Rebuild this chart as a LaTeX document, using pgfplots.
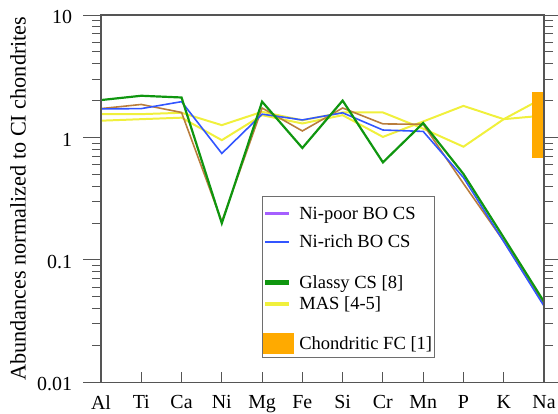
\documentclass[border=0pt]{standalone}
\usepackage{pgfplots}
\pgfplotsset{compat=1.18}
\usepackage{fontspec}
\setmainfont{Liberation Serif}
\definecolor{cGreen}{RGB}{15,150,15}
\definecolor{cBrown}{RGB}{185,125,60}
\definecolor{cBlue}{RGB}{50,85,255}
\definecolor{cYellow}{RGB}{240,240,60}
\definecolor{cOrange}{RGB}{255,170,0}
\definecolor{cPurple}{RGB}{165,95,255}
\definecolor{cAxis}{RGB}{85,85,85}
\definecolor{cLegend}{RGB}{110,110,110}
\begin{document}
\begin{tikzpicture}
\begin{axis}[
  at={(0,0)}, anchor=south west,
  scale only axis, width=443bp, height=367.3bp,
  ymode=log, ymin=0.01, ymax=10,
  xmin=0, xmax=11,
  xtick={0,...,11},
  xticklabels={Al,Ti,Ca,Ni,Mg,Fe,Si,Cr,Mn,P,K,Na},
  ytick={0.01,0.1,1,10}, yticklabels={0.01,0.1,1,10},
  minor ytick={0.02,0.03,0.04,0.05,0.06,0.07,0.08,0.09,0.2,0.3,0.4,0.5,0.6,0.7,0.8,0.9,2,3,4,5,6,7,8,9},
  tick align=outside, major tick length=18bp, minor tick length=9bp,
  major x tick style={draw=none},
  every tick/.style={cAxis, line width=1pt},
  axis line style={draw=cAxis, line width=1.2pt},
  axis on top,
  xticklabel style={font=\fontsize{20}{24}\selectfont, yshift=8bp},
  yticklabel style={font=\fontsize{20}{24}\selectfont, xshift=-7.5bp, yshift=-2bp},
  ylabel={Abundances normalized to CI chondrites},
  ylabel style={font=\fontsize{22.3}{26}\selectfont, at={(axis description cs:-0.1874,0.5)}, anchor=center, inner sep=0pt},
  legend style={at={(axis description cs:0.364,0.508)}, anchor=north west, draw=cLegend, line width=1.2pt, fill=white,
    font=\fontsize{18.6}{22}\selectfont, inner xsep=0.5pt, inner ysep=3pt, row sep=0pt, column sep=4pt,
    nodes={inner xsep=1.5pt, inner ysep=0pt}, cells={anchor=west}},
  legend image code/.code={\draw[#1] (0bp,0bp) -- (23bp,0bp);},
]
% MAS [4-5] (two profiles)
\addplot[cYellow, line width=2pt, forget plot] coordinates {
 (0,1.55) (1,1.55) (2,1.59) (3,1.26) (4,1.62) (5,1.38) (6,1.60) (7,1.60) (8,1.18) (9,0.84) (10,1.41) (11,1.51)};
\addplot[cYellow, line width=2pt, forget plot] coordinates {
 (0,1.37) (1,1.41) (2,1.45) (3,0.95) (4,1.52) (5,1.30) (6,1.52) (7,1.01) (8,1.35) (9,1.81) (10,1.41) (11,2.12)};
% Ni-poor BO CS
\addplot[cBrown, line width=1.6pt, forget plot] coordinates {
 (0,1.72) (1,1.86) (2,1.60) (3,0.205) (4,1.74) (5,1.13) (6,1.74) (7,1.29) (8,1.28) (9,0.42) (10,0.142) (11,0.043)};
% Ni-rich BO CS
\addplot[cBlue, line width=1.6pt, forget plot] coordinates {
 (0,1.71) (1,1.72) (2,1.96) (3,0.74) (4,1.55) (5,1.39) (6,1.59) (7,1.15) (8,1.12) (9,0.47) (10,0.141) (11,0.042)};
% Glassy CS [8]
\addplot[cGreen, line width=2.2pt, forget plot] coordinates {
 (0,2.02) (1,2.19) (2,2.12) (3,0.199) (4,1.96) (5,0.82) (6,2.0) (7,0.626) (8,1.31) (9,0.503) (10,0.152) (11,0.0455)};
% Chondritic FC [1]
\addplot[fill=cOrange, draw=none, forget plot] coordinates {
 (10.695,0.68) (11.305,0.68) (11.305,2.36) (10.695,2.36)} -- cycle;
\pgfplotsinvokeforeach{1,...,10}{\draw[cAxis, line width=1pt] (axis cs:#1,0.01) -- (axis cs:#1,0.01207);}
\addlegendimage{legend image code/.code={\fill[cPurple] (0bp,-0.6bp) rectangle (23bp,0.6bp);}}
\addlegendentry[text height=20.2pt, text depth=8.2pt]{Ni-poor BO CS}
\addlegendimage{legend image code/.code={\fill[cBlue] (0bp,-0.6bp) rectangle (23bp,0.6bp);}}
\addlegendentry[text height=20.2pt, text depth=8.2pt]{Ni-rich BO CS}
\addlegendimage{empty legend}
\addlegendentry[text height=8pt, text depth=8.2pt]{}
\addlegendimage{legend image code/.code={\fill[cGreen] (0bp,-1.6bp) rectangle (23bp,1.6bp);}}
\addlegendentry[text height=16.65pt, text depth=4.65pt]{Glassy CS [8]}
\addlegendimage{legend image code/.code={\fill[cYellow] (0bp,-1.6bp) rectangle (23bp,1.6bp);}}
\addlegendentry[text height=16.65pt, text depth=4.65pt]{MAS [4-5]}
\addlegendimage{empty legend}
\addlegendentry[text height=9pt, text depth=9.7pt]{}
\addlegendimage{legend image code/.code={\fill[cOrange] (-1.7bp,-10bp) rectangle (27.6bp,10bp);}}
\addlegendentry[text height=16.65pt, text depth=4.65pt]{Chondritic FC [1]\hspace{9bp}}
\end{axis}
\pgfresetboundingbox
\path[use as bounding box] (-101bp,-31.7bp) rectangle (457bp,382.3bp);
\end{tikzpicture}
\end{document}
